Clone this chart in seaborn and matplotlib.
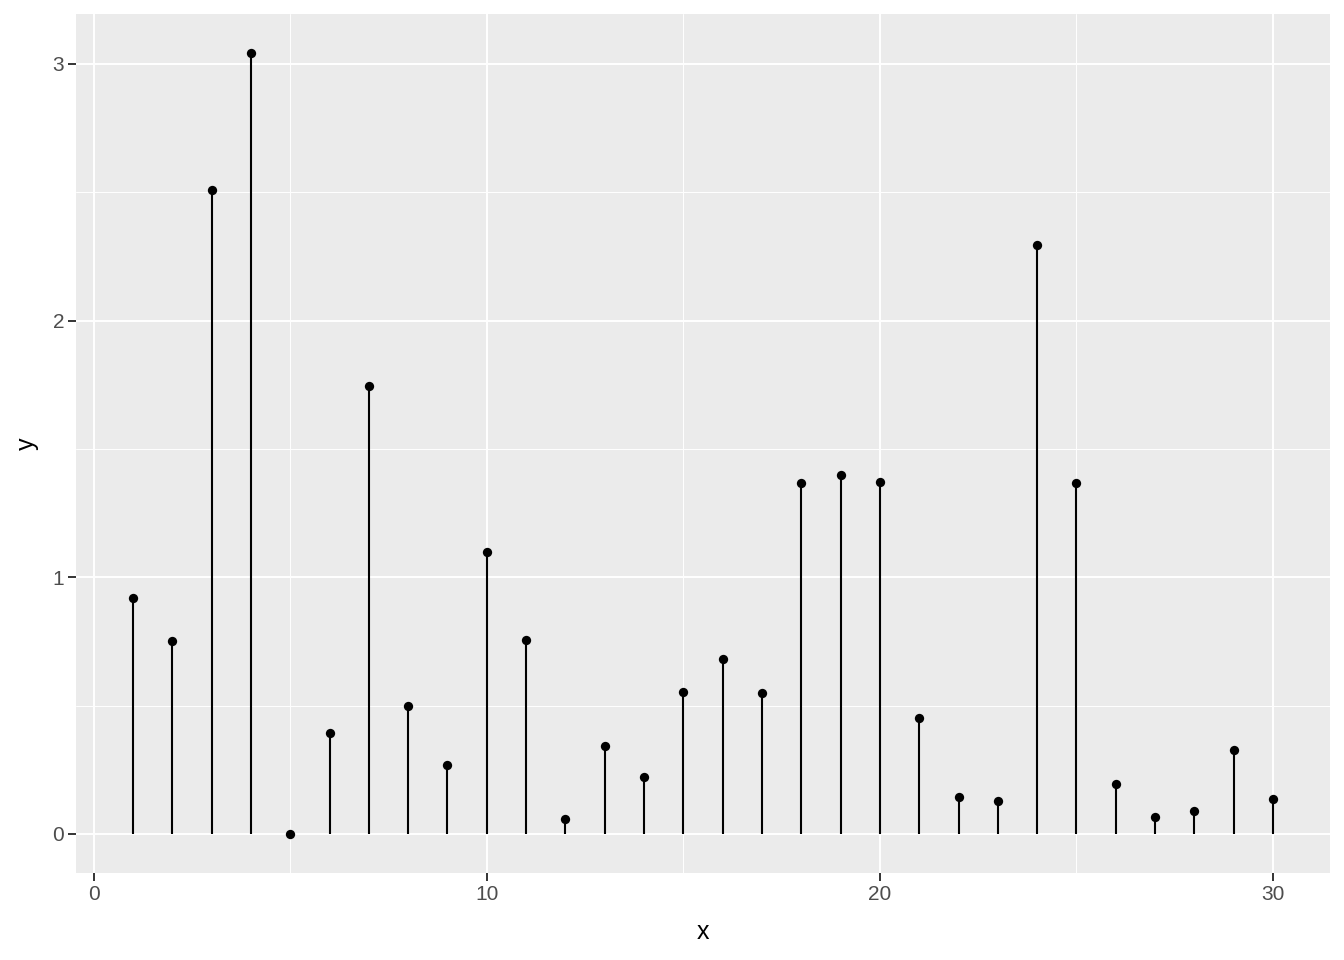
import numpy as np
import pandas as pd
import matplotlib
matplotlib.use('Agg')
import matplotlib.pyplot as plt
import seaborn as sns
from matplotlib.ticker import MultipleLocator

# 数据
x_vals = list(range(1, 31))
y_vals = [0.919, 0.752, 2.509, 3.042, 0.0, 0.393, 1.745, 0.499, 0.269, 1.099,
          0.756, 0.058, 0.343, 0.222, 0.553, 0.682, 0.549, 1.367, 1.399, 1.371,
          0.452, 0.144, 0.129, 2.295, 1.367, 0.195, 0.066, 0.090, 0.327, 0.136]

df = pd.DataFrame({'x': x_vals, 'y': y_vals})

# ggplot 风格
sns.set_theme(style='darkgrid', rc={
    'axes.facecolor': '#EBEBEB',
    'grid.color': 'white',
    'axes.edgecolor': '#EBEBEB',
})
plt.rcParams['font.family'] = ['Liberation Sans', 'DejaVu Sans']

fig = plt.figure(figsize=(13.44, 9.6), dpi=100)
ax = fig.add_axes([76 / 1344, 1 - 873 / 960, (1330 - 76) / 1344, (873 - 14) / 960])

ax.vlines(df['x'], 0, df['y'], color='black', linewidth=1.5, zorder=3)
sns.scatterplot(data=df, x='x', y='y', color='black', s=45, edgecolor='black',
                linewidth=0, ax=ax, zorder=4)

ymax = max(y_vals)
ax.set_xlim(1 - 29 * 0.05, 30 + 29 * 0.05)
ax.set_ylim(-ymax * 0.05, ymax * 1.05)

ax.xaxis.set_major_locator(MultipleLocator(10))
ax.xaxis.set_minor_locator(MultipleLocator(5))
ax.yaxis.set_major_locator(MultipleLocator(1))
ax.yaxis.set_minor_locator(MultipleLocator(0.5))
ax.grid(which='major', color='white', linewidth=1.4)
ax.grid(which='minor', color='white', linewidth=0.7)
ax.set_axisbelow(True)

for s in ax.spines.values():
    s.set_visible(False)

ax.tick_params(axis='both', which='major', length=5.5, width=1.4, color='#333333',
               labelcolor='#4D4D4D', labelsize=15, pad=3, bottom=True, left=True)
ax.tick_params(which='minor', length=0)

ax.set_xlabel('x', fontsize=18, color='black', labelpad=12)
ax.set_ylabel('y', fontsize=18, color='black', labelpad=10)

fig.savefig('out.png', dpi=100)
